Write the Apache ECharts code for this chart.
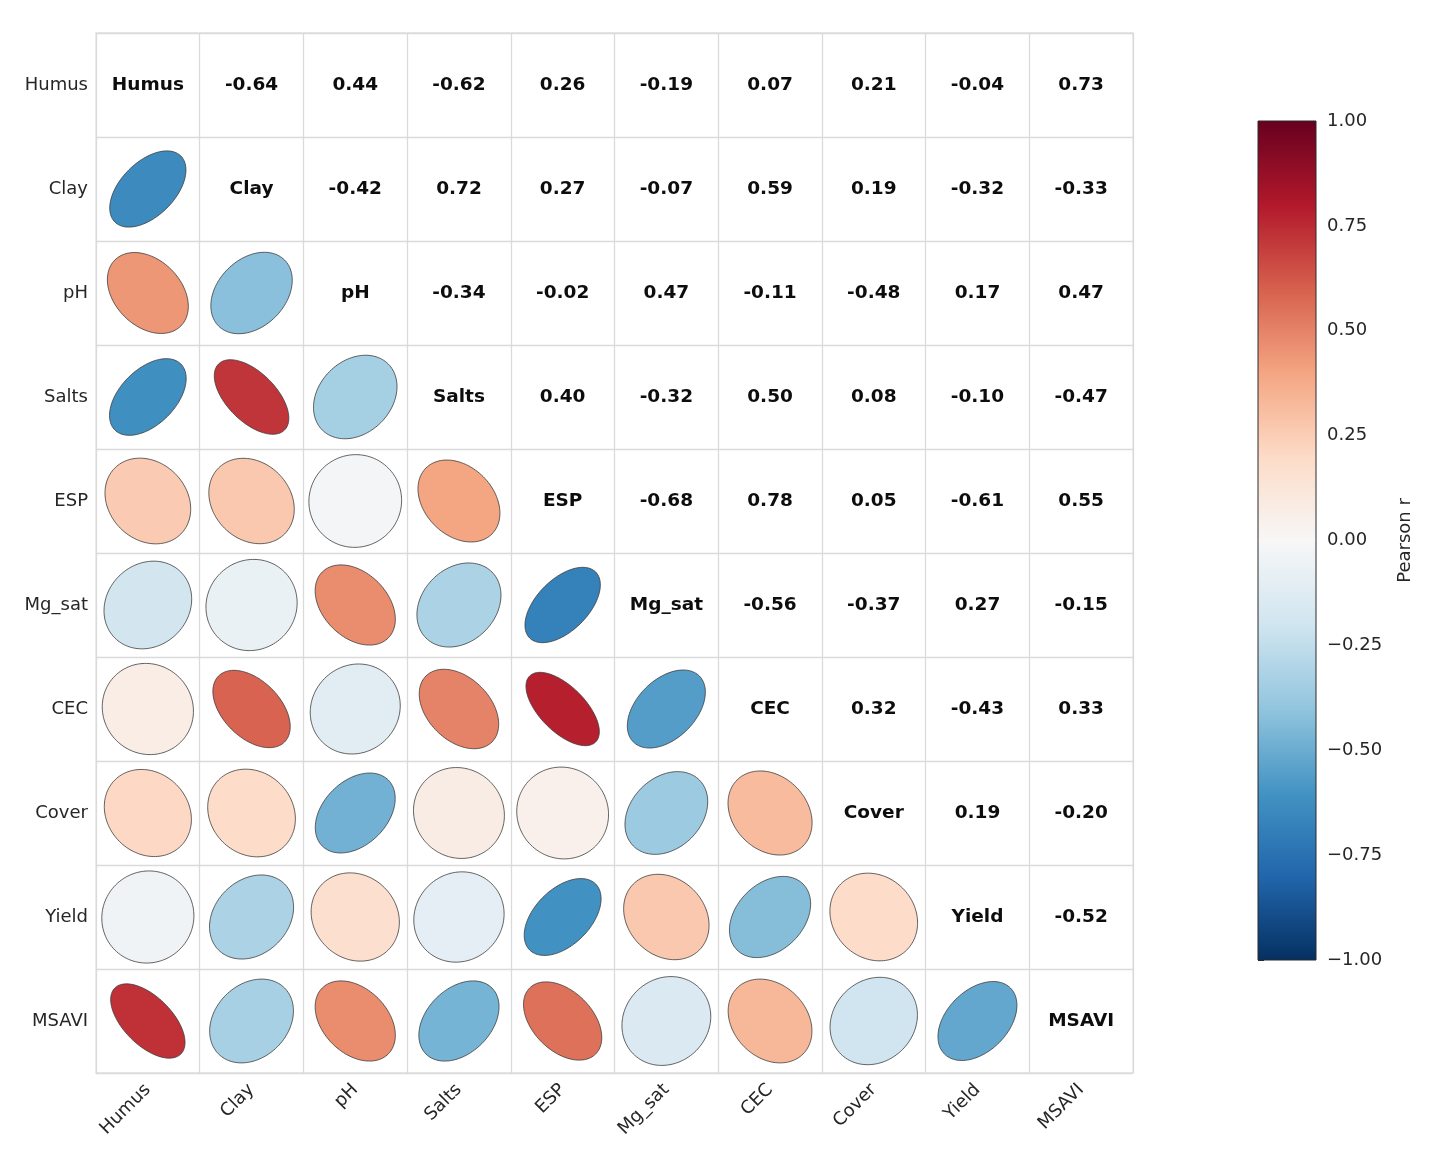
<!DOCTYPE html>
<html>
<head>
<meta charset="utf-8">
<script src="https://cdn.jsdelivr.net/npm/echarts@6/dist/echarts.min.js"></script>
<style>
  html, body { margin: 0; background: #fff; }
  #chart { width: 1443px; height: 1167px; }
</style>
</head>
<body>
<div id="chart"></div>
<script>
const variables = ['Humus', 'Clay', 'pH', 'Salts', 'ESP', 'Mg_sat', 'CEC', 'Cover', 'Yield', 'MSAVI']

// upper triangle: row i holds r(i, j) for j = i+1 .. 9
const upperRows = [
  [-0.64, 0.44, -0.62, 0.26, -0.19, 0.07, 0.21, -0.04, 0.73],
  [-0.42, 0.72, 0.27, -0.07, 0.59, 0.19, -0.32, -0.33],
  [-0.34, -0.02, 0.47, -0.11, -0.48, 0.17, 0.47],
  [0.40, -0.32, 0.50, 0.08, -0.10, -0.47],
  [-0.68, 0.78, 0.05, -0.61, 0.55],
  [-0.56, -0.37, 0.27, -0.15],
  [0.32, -0.43, 0.33],
  [0.19, -0.20],
  [-0.52]
]

// RdBu_r, -1 -> +1
const rdbuColors = ['#053061', '#2166ac', '#4393c3', '#92c5de', '#d1e5f0', '#f7f7f7',
  '#fddbc7', '#f4a582', '#d6604d', '#b2182b', '#67001f']

const FONT = '"DejaVu Sans", "Liberation Sans", sans-serif'

const corr = (i, j) => i < j ? upperRows[i][j - i - 1] : upperRows[j][i - j - 1]

// lower triangle -> ellipses, upper -> numbers, diagonal -> names
const ellipseData = []
const textData = []
const textLabels = []
for (let i = 0; i < variables.length; i++) {
  for (let j = 0; j < variables.length; j++) {
    if (j < i) {
      ellipseData.push([j, i, corr(i, j)])
    } else {
      textData.push([j, i])
      textLabels.push(i === j ? variables[i] : corr(i, j).toFixed(2))
    }
  }
}

const renderEllipse = (params, api) => {
  const c = api.coord([api.value(0), api.value(1)])
  const size = api.size([1, 1])
  const r = api.value(2)
  const a = size[0] * 0.45
  const b = a * (1 - 0.66 * Math.abs(r))
  // screen y points down: positive r drawn as "\", negative as "/"
  const s = r >= 0 ? 1 : -1
  const ux = Math.SQRT1_2
  const uy = s * Math.SQRT1_2
  const pts = []
  for (let k = 0; k < 120; k++) {
    const t = k / 120 * Math.PI * 2
    const ca = a * Math.cos(t)
    const sb = b * Math.sin(t)
    pts.push([c[0] + ca * ux - sb * uy, c[1] + ca * uy + sb * ux])
  }
  return {
    type: 'polygon',
    shape: { points: pts },
    style: { fill: api.visual('color'), stroke: '#3c3c3c', lineWidth: 0.8 }
  }
}

const renderText = (params, api) => {
  const c = api.coord([api.value(0), api.value(1)])
  return {
    type: 'text',
    x: c[0],
    y: c[1],
    style: {
      text: textLabels[params.dataIndex],
      fill: '#0d0d0d',
      font: 'bold 18.5px ' + FONT,
      align: 'center',
      verticalAlign: 'middle',
      textAlign: 'center',
      textVerticalAlign: 'middle'
    }
  }
}

const renderColorbar = (params, api) => {
  const cs = params.coordSys
  const stops = rdbuColors.map((color, k) => ({
    offset: 1 - k / (rdbuColors.length - 1),
    color
  })).reverse()
  return {
    type: 'rect',
    shape: { x: cs.x, y: cs.y, width: cs.width, height: cs.height },
    style: {
      fill: new echarts.graphic.LinearGradient(0, 0, 0, 1, stops),
      stroke: '#2b2b2b',
      lineWidth: 1
    }
  }
}

const gridLine = { show: true, interval: 0, lineStyle: { color: '#dadada', width: 1.3 } }

const option = {
  backgroundColor: '#fff',
  animation: false,
  textStyle: { fontFamily: FONT },
  grid: [
    { left: 96, top: 33, width: 1037, height: 1040, show: true, borderColor: '#e2e2e2', borderWidth: 1.3 },
    { left: 1258, top: 121, width: 58, height: 839 }
  ],
  xAxis: [
    {
      gridIndex: 0,
      type: 'category',
      data: variables,
      axisLine: { show: false },
      axisTick: { show: false },
      splitLine: gridLine,
      axisLabel: { rotate: 45, fontSize: 18, color: '#262626', margin: 14, interval: 0 }
    },
    { gridIndex: 1, type: 'value', min: 0, max: 1, show: false }
  ],
  yAxis: [
    {
      gridIndex: 0,
      type: 'category',
      data: variables,
      inverse: true,
      axisLine: { show: false },
      axisTick: { show: false },
      splitLine: gridLine,
      axisLabel: { fontSize: 18, color: '#262626', margin: 8, interval: 0 }
    },
    {
      gridIndex: 1,
      type: 'value',
      position: 'right',
      min: -1,
      max: 1,
      interval: 0.25,
      axisLine: { show: false },
      splitLine: { show: false },
      axisTick: { show: true, length: 6, lineStyle: { color: '#2b2b2b' } },
      axisLabel: {
        fontSize: 18,
        color: '#262626',
        margin: 11,
        formatter: v => (v < 0 ? '\u2212' : '') + Math.abs(v).toFixed(2)
      },
      name: 'Pearson r',
      nameLocation: 'middle',
      nameRotate: 90,
      nameGap: 80,
      nameTextStyle: { fontSize: 18, color: '#262626' }
    }
  ],
  visualMap: {
    show: false,
    type: 'continuous',
    seriesIndex: 0,
    dimension: 2,
    min: -1,
    max: 1,
    inRange: { color: rdbuColors }
  },
  series: [
    {
      type: 'custom',
      xAxisIndex: 0,
      yAxisIndex: 0,
      renderItem: renderEllipse,
      data: ellipseData
    },
    {
      type: 'custom',
      xAxisIndex: 0,
      yAxisIndex: 0,
      renderItem: renderText,
      data: textData
    },
    {
      type: 'custom',
      xAxisIndex: 1,
      yAxisIndex: 1,
      renderItem: renderColorbar,
      data: [[0.5, 0]]
    }
  ]
}

const chart = echarts.init(document.getElementById('chart'))
chart.setOption(option)
window.addEventListener('resize', () => chart.resize())
</script>
</body>
</html>
